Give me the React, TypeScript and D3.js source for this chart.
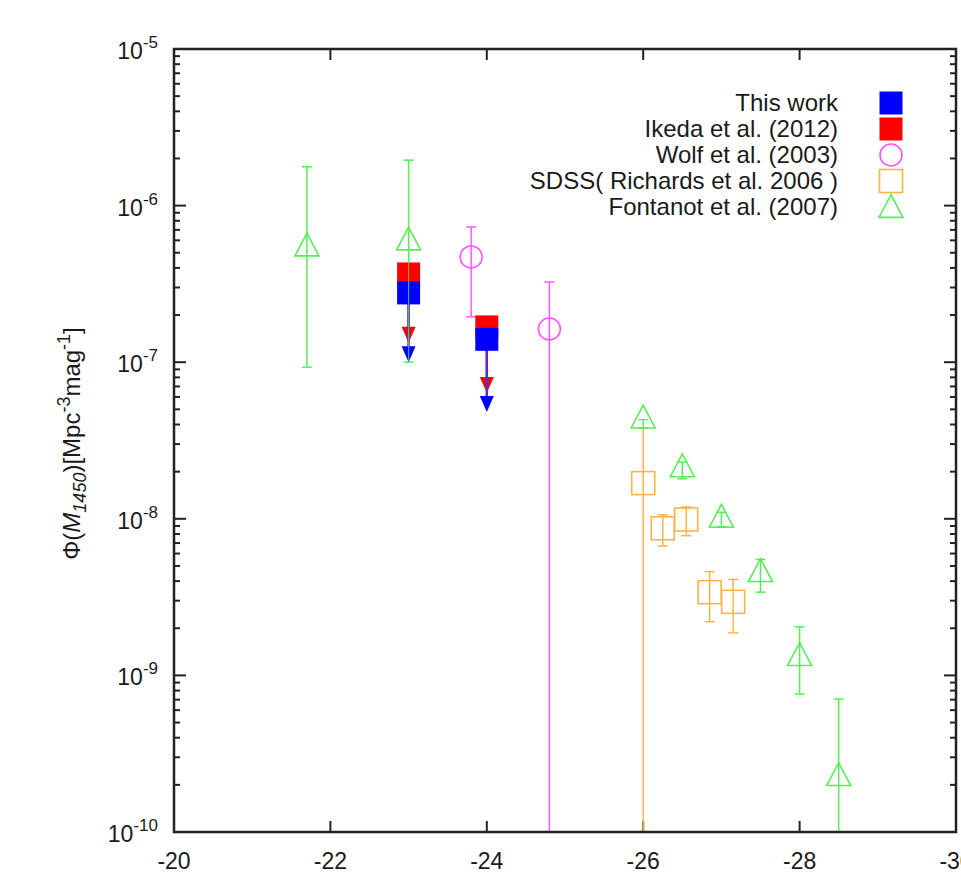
import React from "react";
import * as d3 from "d3";

// luminosity function points
// [M1450, phi, phiLow, phiHigh]
const fontanot = [
  [-21.7, 5.4e-7, 9.3e-8, 1.77e-6],
  [-23.0, 5.9e-7, 1.0e-7, 1.95e-6],
  [-26.0, 4.3e-8, 3.8e-8, 4.3e-8],
  [-26.5, 2.1e-8, 1.8e-8, 2.3e-8],
  [-27.0, 1.0e-8, 8.9e-9, 1.1e-8],
  [-27.5, 4.5e-9, 3.4e-9, 5.5e-9],
  [-28.0, 1.31e-9, 7.6e-10, 2.04e-9],
  [-28.5, 2.24e-10, 1e-11, 7.06e-10],
];
const wolf = [
  [-23.8, 4.7e-7, 1.95e-7, 7.3e-7],
  [-24.8, 1.63e-7, 1e-11, 3.25e-7],
];
const sdss = [
  [-26.0, 1.69e-8, 1e-11, 3.8e-8],
  [-26.25, 8.7e-9, 6.7e-9, 1.06e-8],
  [-26.55, 9.9e-9, 7.8e-9, 1.19e-8],
  [-26.85, 3.4e-9, 2.2e-9, 4.6e-9],
  [-27.15, 2.95e-9, 1.87e-9, 4.1e-9],
];
// upper limits: [M1450, phi, arrow tip]
const ikeda = [
  [-23.0, 3.66e-7, 1.33e-7],
  [-24.0, 1.68e-7, 6.35e-8],
];
const thisWork = [
  [-23.0, 2.77e-7, 1.0e-7],
  [-24.0, 1.4e-7, 4.8e-8],
];
const xTicks = [-20, -22, -24, -26, -28, -30];
const yDecades = [-10, -9, -8, -7, -6, -5];
const legendLabels = [
  "This work",
  "Ikeda et al. (2012)",
  "Wolf et al. (2003)",
  "SDSS( Richards et al. 2006 )",
  "Fontanot et al. (2007)",
];

const W = 961, H = 879;
const m = { left: 174, top: 49, right: 956, bottom: 832 };
const BLUE = "#0000ff", RED = "#ff0000", MAG = "#ff55ff", ORA = "#ffb347", GRN = "#55ee55";
const font = "'Liberation Sans', Arial, sans-serif";

function App() {
  const x = d3.scaleLinear().domain([-20, -30]).range([m.left, m.right]);
  const y = d3.scaleLog().domain([1e-10, 1e-5]).range([m.bottom, m.top]).clamp(true);

  const tri = (cx: number, cy: number, s: number) =>
    `M${cx},${cy - s * 0.6}L${cx + s / 2},${cy + s * 0.35}L${cx - s / 2},${cy + s * 0.35}Z`;
  const down = (cx: number, tip: number) =>
    `M${cx},${tip}L${cx - 7},${tip - 16}L${cx + 7},${tip - 16}Z`;

  const errBar = (d: number[], color: string, key: string) => {
    const cx = x(d[0]);
    const y1 = y(d[2]), y2 = y(d[3]);
    return (
      <g key={key} stroke={color} strokeWidth={1.5}>
        <line x1={cx} x2={cx} y1={y1} y2={y2} />
        {d[3] > 1e-10 && <line x1={cx - 5} x2={cx + 5} y1={y2} y2={y2} />}
        {d[2] > 1e-10 && <line x1={cx - 5} x2={cx + 5} y1={y1} y2={y1} />}
      </g>
    );
  };

  // minor ticks
  const minor: number[] = [];
  yDecades.slice(0, -1).forEach((e) => {
    for (let k = 2; k <= 9; k++) minor.push(k * Math.pow(10, e));
  });

  const legendY = [103, 129, 155, 181, 207];
  const lx = 891;

  return (
    <svg width={W} height={H} style={{ position: "absolute", left: 0, top: 0 }} fontFamily={font}>
      <rect width={W} height={H} fill="#fff" />

      {/* ticks */}
      <g stroke="#222" strokeWidth={2}>
        {xTicks.map((t) => (
          <g key={t}>
            <line x1={x(t)} x2={x(t)} y1={m.bottom} y2={m.bottom - 11} />
            <line x1={x(t)} x2={x(t)} y1={m.top} y2={m.top + 11} />
          </g>
        ))}
        {yDecades.map((e) => (
          <g key={e}>
            <line x1={m.left} x2={m.left + 12} y1={y(Math.pow(10, e))} y2={y(Math.pow(10, e))} />
            <line x1={m.right} x2={m.right - 12} y1={y(Math.pow(10, e))} y2={y(Math.pow(10, e))} />
          </g>
        ))}
        {minor.map((v, i) => (
          <g key={i}>
            <line x1={m.left} x2={m.left + 6} y1={y(v)} y2={y(v)} />
            <line x1={m.right} x2={m.right - 6} y1={y(v)} y2={y(v)} />
          </g>
        ))}
      </g>

      {/* tick labels */}
      <g fill="#1a1a1a" fontSize={23}>
        {xTicks.map((t) => (
          <text key={t} x={x(t)} y={869} textAnchor="middle">{t}</text>
        ))}
        {yDecades.map((e) => (
          <text key={e} x={158} y={y(Math.pow(10, e)) + 10} textAnchor="end">
            10<tspan fontSize={17} dy={-11}>{e}</tspan>
          </text>
        ))}
      </g>

      {/* y label */}
      <text
        transform={`translate(80,${(m.top + m.bottom) / 2 + 3}) rotate(-90)`}
        textAnchor="middle"
        fontSize={24}
        fill="#1a1a1a"
      >
        Φ(<tspan fontStyle="italic">M</tspan>
        <tspan fontStyle="italic" fontSize={18} dy={6}>1450</tspan>
        <tspan dy={-6}>)[Mpc</tspan>
        <tspan fontSize={18} dy={-10}>-3</tspan>
        <tspan dy={10}>mag</tspan>
        <tspan fontSize={18} dy={-10}>-1</tspan>
        <tspan dy={10}>]</tspan>
      </text>

      {/* error bars */}
      {wolf.map((d, i) => errBar(d, MAG, "we" + i))}
      {sdss.map((d, i) => errBar(d, ORA, "se" + i))}
      {fontanot.map((d, i) => errBar(d, GRN, "fe" + i))}

      {/* open markers */}
      {wolf.map((d, i) => (
        <circle key={"w" + i} cx={x(d[0])} cy={y(d[1])} r={11} fill="none" stroke={MAG} strokeWidth={1.6} />
      ))}
      {sdss.map((d, i) => (
        <rect key={"s" + i} x={x(d[0]) - 11.5} y={y(d[1]) - 11.5} width={23} height={23} fill="none" stroke={ORA} strokeWidth={1.6} />
      ))}
      {fontanot.map((d, i) => (
        <path key={"f" + i} d={tri(x(d[0]), y(d[1]), 24)} fill="none" stroke={GRN} strokeWidth={1.6} />
      ))}

      {/* upper limits */}
      {ikeda.map((d, i) => (
        <g key={"i" + i}>
          <line x1={x(d[0])} x2={x(d[0])} y1={y(d[1])} y2={y(d[2]) - 10} stroke={RED} strokeWidth={2} />
          <path d={down(x(d[0]), y(d[2]))} fill={RED} />
          <rect x={x(d[0]) - 11.5} y={y(d[1]) - 11.5} width={23} height={23} fill={RED} />
        </g>
      ))}
      {thisWork.map((d, i) => (
        <g key={"t" + i}>
          <line x1={x(d[0])} x2={x(d[0])} y1={y(d[1])} y2={y(d[2]) - 10} stroke="#5030c8" strokeWidth={2.5} />
          <path d={down(x(d[0]), y(d[2]))} fill={BLUE} />
          <rect x={x(d[0]) - 11.5} y={y(d[1]) - 11.5} width={23} height={23} fill={BLUE} />
        </g>
      ))}
      {/* green bar over the square, as in the original */}
      <line x1={x(fontanot[1][0])} x2={x(fontanot[1][0])} y1={y(fontanot[1][1])} y2={y(fontanot[1][2])} stroke={GRN} strokeWidth={1.2} opacity={0.7} />

      {/* legend */}
      <g fontSize={24} fill="#1a1a1a" textAnchor="end">
        {legendLabels.map((l, i) => (
          <text key={l} x={838} y={legendY[i] + 8}>{l}</text>
        ))}
      </g>
      <rect x={lx - 11.5} y={legendY[0] - 11.5} width={23} height={23} fill={BLUE} />
      <rect x={lx - 11.5} y={legendY[1] - 11.5} width={23} height={23} fill={RED} />
      <circle cx={lx} cy={legendY[2]} r={11} fill="none" stroke={MAG} strokeWidth={1.6} />
      <rect x={lx - 11.5} y={legendY[3] - 11.5} width={23} height={23} fill="none" stroke={ORA} strokeWidth={1.6} />
      <path d={tri(lx, legendY[4] + 2, 24)} fill="none" stroke={GRN} strokeWidth={1.6} />

      {/* frame */}
      <rect x={m.left} y={m.top} width={m.right - m.left} height={m.bottom - m.top} fill="none" stroke="#222" strokeWidth={2.5} />
    </svg>
  );
}

export default App;
